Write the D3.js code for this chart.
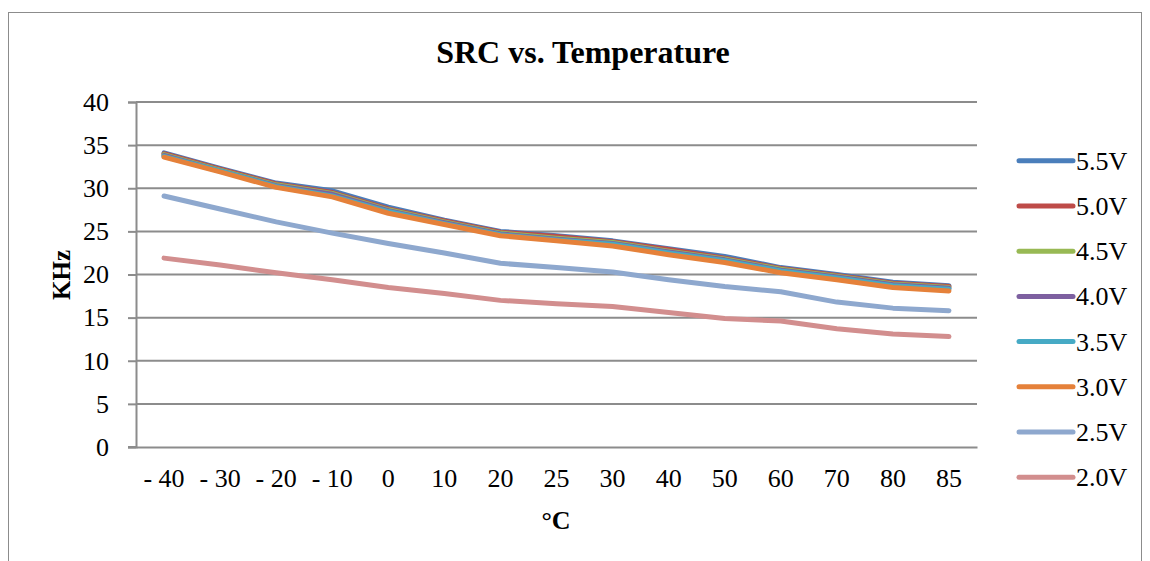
<!DOCTYPE html>
<html>
<head>
<meta charset="utf-8">
<script src="https://cdn.jsdelivr.net/npm/d3@7"></script>
<style>
  body { margin: 0; background: #fff; }
  text { font-family: "Liberation Serif", "Times New Roman", serif; fill: #000; }
</style>
</head>
<body>
<script>
var temps = ["- 40", "- 30", "- 20", "- 10", "0", "10", "20", "25", "30", "40", "50", "60", "70", "80", "85"];
var seriesNames = ["5.5V", "5.0V", "4.5V", "4.0V", "3.5V", "3.0V", "2.5V", "2.0V"];
var colors = ["#4A7EBB", "#BE4B48", "#98B954", "#7D60A0", "#46AAC5", "#E5813A", "#8EA8CE", "#D28E8E"];

var v55 = [34.1, 32.3, 30.6, 29.7, 27.8, 26.3, 25.0, 24.5, 23.9, 23.0, 22.1, 20.8, 20.0, 19.1, 18.7];
var v50 = [34.0, 32.2, 30.5, 29.5, 27.6, 26.2, 24.9, 24.4, 23.8, 22.9, 21.9, 20.7, 19.9, 19.0, 18.6];
var v45 = [33.9, 32.1, 30.4, 29.4, 27.5, 26.1, 24.8, 24.2, 23.7, 22.7, 21.8, 20.6, 19.8, 18.9, 18.5];
var v40 = [33.8, 32.0, 30.3, 29.3, 27.4, 26.0, 24.7, 24.1, 23.6, 22.6, 21.7, 20.5, 19.7, 18.8, 18.4];
var v35 = [33.7, 32.0, 30.2, 29.1, 27.3, 25.9, 24.6, 24.0, 23.5, 22.5, 21.6, 20.4, 19.6, 18.7, 18.3];
var v30 = [33.6, 31.9, 30.1, 29.0, 27.1, 25.8, 24.5, 23.9, 23.3, 22.3, 21.4, 20.2, 19.4, 18.5, 18.1];
var v25 = [29.1, 27.6, 26.1, 24.8, 23.6, 22.5, 21.3, 20.8, 20.3, 19.4, 18.6, 18.0, 16.8, 16.1, 15.8];
var v20 = [21.9, 21.1, 20.2, 19.4, 18.5, 17.8, 17.0, 16.6, 16.3, 15.6, 14.9, 14.6, 13.7, 13.1, 12.8];
var allValues = [v55, v50, v45, v40, v35, v30, v25, v20];
var yTicks = [0, 5, 10, 15, 20, 25, 30, 35, 40];

var W = 1150, H = 561;
var plot = {left: 136, right: 977, top: 102, bottom: 447};

var svg = d3.select("body").append("svg")
  .attr("width", W).attr("height", H);

// chart frame
svg.append("rect")
  .attr("x", 8.5).attr("y", 12.5)
  .attr("width", 1133).attr("height", 560)
  .attr("fill", "#fff").attr("stroke", "#8c8c8c").attr("stroke-width", 1);

var x = d3.scaleBand().domain(temps).range([plot.left, plot.right]);
var y = d3.scaleLinear().domain([0, 40]).range([plot.bottom, plot.top]);

// gridlines
svg.append("g").selectAll("line")
  .data(yTicks.filter(function(d) { return d > 0; }))
  .enter().append("line")
  .attr("x1", plot.left).attr("x2", plot.right)
  .attr("y1", function(d) { return y(d); }).attr("y2", function(d) { return y(d); })
  .attr("stroke", "#8c8c8c").attr("stroke-width", 2);

// y axis
var yAxis = d3.axisLeft(y).tickValues(yTicks).tickSize(8).tickPadding(19);
var gy = svg.append("g")
  .attr("transform", "translate(" + plot.left + ",0)")
  .call(yAxis);
gy.select(".domain").attr("stroke", "#8c8c8c").attr("stroke-width", 2);
gy.selectAll(".tick line").attr("stroke", "#8c8c8c").attr("stroke-width", 2);
gy.selectAll(".tick text").style("font-size", "26px").attr("font-family", "Liberation Serif");

// x axis
var xAxis = d3.axisBottom(x).tickSize(0).tickPadding(22);
var gx = svg.append("g")
  .attr("transform", "translate(0," + plot.bottom + ")")
  .call(xAxis);
gx.select(".domain").attr("stroke", "#8c8c8c").attr("stroke-width", 2);
gx.selectAll(".tick text").style("font-size", "26px").attr("font-family", "Liberation Serif");
svg.append("line")
  .attr("x1", plot.left - 8).attr("x2", plot.left)
  .attr("y1", plot.bottom).attr("y2", plot.bottom)
  .attr("stroke", "#8c8c8c").attr("stroke-width", 2);

// lines
var line = d3.line()
  .x(function(d, i) { return x(temps[i]) + x.bandwidth() / 2; })
  .y(function(d) { return y(d); });

svg.append("g").selectAll("path")
  .data(allValues)
  .enter().append("path")
  .attr("d", line)
  .attr("fill", "none")
  .attr("stroke", function(d, i) { return colors[i]; })
  .attr("stroke-width", 5)
  .attr("stroke-linejoin", "round")
  .attr("stroke-linecap", "round");

// title and axis titles
svg.append("text")
  .attr("x", 583).attr("y", 63)
  .attr("text-anchor", "middle")
  .style("font-size", "32px").style("font-weight", "bold")
  .text("SRC vs. Temperature");

svg.append("text")
  .attr("transform", "translate(70,275) rotate(-90)")
  .attr("text-anchor", "middle")
  .style("font-size", "25px").style("font-weight", "bold")
  .text("KHz");

svg.append("text")
  .attr("x", 556).attr("y", 529)
  .attr("text-anchor", "middle")
  .style("font-size", "26px").style("font-weight", "bold")
  .text("°C");

// legend
var legend = svg.append("g").selectAll("g")
  .data(seriesNames)
  .enter().append("g")
  .attr("transform", function(d, i) { return "translate(1019," + (160.7 + i * 45.23) + ")"; });
legend.append("line")
  .attr("x1", 0).attr("x2", 54)
  .attr("stroke", function(d, i) { return colors[i]; })
  .attr("stroke-width", 5).attr("stroke-linecap", "round");
legend.append("text")
  .attr("x", 57).attr("y", 9)
  .style("font-size", "26px")
  .text(function(d) { return d; });
</script>
</body>
</html>
